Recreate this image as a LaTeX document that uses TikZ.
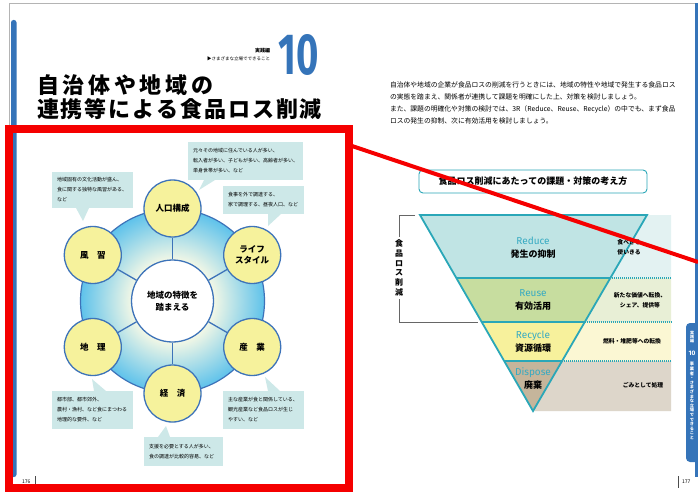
\documentclass[tikz,border=0pt]{standalone}
\usepackage{fontspec}
\usepackage{graphicx}
\setmainfont{Noto Sans CJK JP}
\newfontfamily\latinf{Fira Sans}
\definecolor{brandblue}{HTML}{3574B9}
\definecolor{ringline}{HTML}{3D73B9}
\definecolor{satyel}{HTML}{F6F29C}
\definecolor{callbg}{HTML}{CDE8E8}
\definecolor{ringin}{HTML}{F4F8E6}
\definecolor{ringout}{HTML}{5EC2EB}
\definecolor{tealline}{HTML}{2AA7B8}
\definecolor{tealtext}{HTML}{36AAC2}
\definecolor{redufill}{HTML}{C0E4E4}
\definecolor{reusfill}{HTML}{C7DD9F}
\definecolor{recyfill}{HTML}{F7F19C}
\definecolor{dispfill}{HTML}{C5B59B}
\definecolor{redulite}{HTML}{E3F2F2}
\definecolor{reuslite}{HTML}{E8EFD6}
\definecolor{recylite}{HTML}{FBF7D3}
\definecolor{displite}{HTML}{DDD6CA}
\definecolor{framegray}{HTML}{B4B4B4}
\definecolor{hlred}{HTML}{F50000}
\pgfdeclareradialshading{ringshade}{\pgfpoint{0bp}{0bp}}{color(0bp)=(ringin); color(11bp)=(ringin); color(25bp)=(ringout); color(50bp)=(ringout)}
\tikzset{
  sat/.style={circle, draw=ringline, line width=1.3pt, fill=satyel, minimum size=57pt, inner sep=0pt, font=\fontsize{8.5}{11}\selectfont\bfseries, align=center},
  callout/.style 2 args={fill=callbg, anchor=north west, outer sep=0pt, inner xsep=5pt, inner ysep=0pt, align=left, font=\fontsize{5}{10}\selectfont, text width=#1, minimum height=#2},
  plain/.style={inner sep=0pt, outer sep=0pt},
  engl/.style={plain, text=tealtext, font=\latinf\fontsize{10}{10}\selectfont},
  jpl/.style={plain, font=\fontsize{9}{9}\selectfont\bfseries},
  note/.style={plain, align=center, font=\fontsize{5.8}{10}\selectfont\bfseries},
  para/.style={plain, anchor=base west, font=\fontsize{6.8}{12}\selectfont},
  ttl/.style={plain, anchor=west, font=\fontsize{22}{22}\selectfont\bfseries},
}
\begin{document}
\begin{tikzpicture}[x=1pt,y=-1pt]
\useasboundingbox (0,0) rectangle (698,492);
\fill[white] (0,0) rectangle (698,492);
% page frame
\draw[framegray, line width=0.8pt] (9.5,492) -- (9.5,3.5) -- (698,3.5);
% left blue bar
\fill[brandblue, rounded corners=2.5pt] (11,20) rectangle (16.5,477);
% right blue edge and tab
\fill[brandblue] (694.5,3.5) rectangle (698,477);
\fill[brandblue, rounded corners=4pt] (686,323) rectangle (704,462);
\node[plain, text=white, align=center, font=\fontsize{4}{4.4}\selectfont\bfseries] (tab1) at (692,337) {実\\践\\編};
\node[plain, text=white, font=\latinf\fontsize{6.5}{6.5}\selectfont\bfseries] (tab2) at (692,353) {10};
\node[plain, text=white, align=center, font=\fontsize{4.2}{4.6}\selectfont\bfseries] (tab3) at (692,401) {事\\業\\者\\・\\さ\\ま\\ざ\\ま\\な\\立\\場\\で\\で\\き\\る\\こ\\と};

% header
\node[plain, anchor=east, font=\fontsize{5}{5}\selectfont\bfseries] (hd1) at (270,51) {実践編};
\node[plain, anchor=east, font=\fontsize{4.5}{4.5}\selectfont] (hd2) at (270,58.5) {▶さまざまな立場でできること};
\node[plain, text=brandblue] (num) at (298.5,55) {\scalebox{0.66}[1]{\latinf\bfseries\fontsize{58}{58}\selectfont 10}};
\node[ttl] (t1) at (37,85) {\makebox[176pt][s]{自\hfill 治\hfill 体\hfill や\hfill 地\hfill 域\hfill の}};
\node[ttl] (t2) at (37,109.5) {\makebox[285pt][s]{連\hfill 携\hfill 等\hfill に\hfill よ\hfill る\hfill 食\hfill 品\hfill ロ\hfill ス\hfill 削\hfill 減}};

% diagram ring
\shade[shading=ringshade] (172.5,301) circle (92pt);
\draw[ringline, line width=1.2pt] (172.5,301) circle (92pt);
\node[circle, draw=ringline, line width=1.3pt, fill=white, minimum size=82pt, inner sep=0pt, align=center, font=\fontsize{8.5}{12}\selectfont\bfseries] (ctr) at (172.5,301) {地域の特徴を\\踏まえる};
\node[sat] (s1) at (172.5,208.5) {人口構成};
\node[sat] (s2) at (252.2,255) {ライフ\\スタイル};
\node[sat] (s3) at (252.2,347) {産　業};
\node[sat] (s4) at (172.5,393.5) {経　済};
\node[sat] (s5) at (92.8,347) {地　理};
\node[sat] (s6) at (92.8,255) {風　習};
\foreach \s in {s1,s2,s3,s4,s5,s6} \draw[ringline, line width=1.3pt] (ctr) -- (\s);

% callouts
\fill[callbg] (204,180) -- (199,190) -- (215,180) -- cycle;
\node[callout={105pt}{38pt}] (b1) at (188,142) {元々その地域に住んでいる人が多い、\\転入者が多い、子どもが多い、高齢者が多い、\\単身世帯が多い、など};
\fill[callbg] (268,214) -- (268,226) -- (281,214) -- cycle;
\node[callout={71pt}{28pt}] (b2) at (223,186) {食事を外で調達する、\\家で調理する、昼夜人口、など};
\fill[callbg] (76,208) -- (83,221) -- (89,208) -- cycle;
\node[callout={71pt}{36pt}] (b3) at (52,172) {地域固有の文化活動が盛ん、\\食に関する独特な風習がある、\\など};
\fill[callbg] (94,391) -- (92,379) -- (106,391) -- cycle;
\node[callout={71pt}{38pt}] (b4) at (52,391) {都市部、都市郊外、\\農村・漁村、など食にまつわる\\地理的な要件、など};
\fill[callbg] (158,437) -- (166,426) -- (170,437) -- cycle;
\node[callout={69pt}{29pt}] (b5) at (144,437) {支援を必要とする人が多い、\\食の調達が比較的容易、など};
\fill[callbg] (268,391) -- (265,377) -- (280,391) -- cycle;
\node[callout={71pt}{38pt}] (b6) at (223,391) {主な産業が食と関係している、\\観光産業など食品ロスが生じ\\やすい、など};

% page numbers
\node[plain, anchor=west, font=\fontsize{5}{5}\selectfont] (pn1) at (22,482) {176};
\draw[black!70, line width=0.6pt] (35,476) -- (35,488);
\node[plain, anchor=west, font=\fontsize{5}{5}\selectfont] (pn2) at (682,482) {177};
\draw[black!70, line width=0.6pt] (678.5,476) -- (678.5,488);

% right page paragraph
\node[para] (p1) at (390,88) {自治体や地域の企業が食品ロスの削減を行うときには、地域の特性や地域で発生する食品ロス};
\node[para] (p2) at (390,100) {の実態を踏まえ、関係者が連携して課題を明確にした上、対策を検討しましょう。};
\node[para] (p3) at (390,112) {また、課題の明確化や対策の検討では、3R（Reduce、Reuse、Recycle）の中でも、まず食品};
\node[para] (p4) at (390,124) {ロスの発生の抑制、次に有効活用を検討しましょう。};

% title box
\node[draw=tealline, line width=0.9pt, rounded corners=4pt, minimum width=228pt, minimum height=23pt, inner sep=0pt, font=\fontsize{9}{9}\selectfont\bfseries] (tbox) at (533,181.5) {食品ロス削減にあたっての課題・対策の考え方};

% right bands
\fill[redulite] (647,215) -- (671,215) -- (671,278) -- (610,278) -- cycle;
\fill[reuslite] (610,278) -- (671,278) -- (671,322) -- (584.5,322) -- cycle;
\fill[recylite] (584.5,322) -- (671,322) -- (671,361) -- (562,361) -- cycle;
\fill[displite] (562,361) -- (671,361) -- (671,411) -- (533,411) -- cycle;
\draw[tealline, line width=1.3pt, dash pattern=on 1pt off 1pt] (610,278) -- (671,278);
\draw[tealline, line width=1.3pt, dash pattern=on 1pt off 1pt] (584.5,322) -- (671,322);
\draw[tealline, line width=1.3pt, dash pattern=on 1pt off 1pt] (562,361) -- (671,361);
% funnel
\fill[redufill] (420,215) -- (647,215) -- (610,278) -- (456,278) -- cycle;
\fill[reusfill] (456,278) -- (610,278) -- (584.5,322) -- (481.5,322) -- cycle;
\fill[recyfill] (481.5,322) -- (584.5,322) -- (562,361) -- (504,361) -- cycle;
\fill[dispfill] (504,361) -- (562,361) -- (533,411) -- cycle;
\draw[tealline, line width=1.3pt] (456,278) -- (610,278) (481.5,322) -- (584.5,322) (504,361) -- (562,361);
\draw[tealline, line width=1.8pt, line join=miter] (420,215) -- (647,215) -- (533,411) -- cycle;
\node[engl] (e1) at (533,241) {Reduce};
\node[jpl] (j1) at (533,254) {発生の抑制};
\node[engl] (e2) at (533,293) {Reuse};
\node[jpl] (j2) at (533,306) {有効活用};
\node[engl] (e3) at (533,336) {Recycle};
\node[jpl] (j3) at (533,348.5) {資源循環};
\node[engl] (e4) at (533,373) {Dispose};
\node[jpl] (j4) at (533,385.5) {廃棄};
\node[note] (n1) at (629,247) {食べきる\\使いきる};
\node[note] (n2) at (640,300) {新たな価値へ転換、\\シェア、提供等};
\node[note] (n3) at (632,341) {燃料・堆肥等への転換};
\node[note] (n4) at (643,385) {ごみとして処理};
% bracket
\draw[black!60, line width=0.8pt] (415,215) -- (399,215) -- (399,237);
\draw[black!60, line width=0.8pt] (399,299) -- (399,322) -- (478,322);
\node[plain, align=center, font=\fontsize{8}{9.8}\selectfont\bfseries] (brk) at (399,268) {食\\品\\ロ\\ス\\削\\減};

% highlight
\draw[hlred, line width=8pt] (9,129) rectangle (349,488);
\coordinate (ra) at (352,146);
\coordinate (rb) at (698,262);
\draw[hlred, line width=4pt] (ra) -- (rb);
\end{tikzpicture}
\end{document}
